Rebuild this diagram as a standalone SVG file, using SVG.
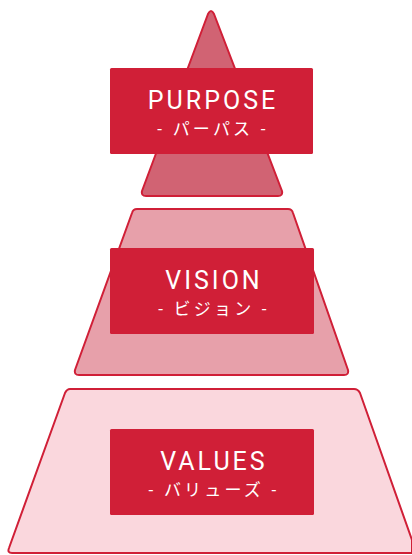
<svg xmlns="http://www.w3.org/2000/svg" width="412" height="555" viewBox="0 0 412 555">
<style>
.tier{stroke:#d01f37;stroke-width:2;stroke-linejoin:round}
.box{fill:#d01f37}
.t1{font-family:Roboto,"Noto Sans",sans-serif;font-size:25px;fill:#fff;letter-spacing:3px;text-anchor:middle}
.t2{font-family:Roboto,"Noto Sans CJK JP",sans-serif;font-size:17px;fill:#fff;letter-spacing:3.2px;text-anchor:middle}
</style>
<rect width="412" height="555" fill="#fff"/>
<g id="values">
<path class="tier" d="M70,389 L354,389 Q358,389 360,393 L412,540 L412,553 L12,553 Q7,553 9,548 L65,393 Q67,389 70,389 Z" fill="#fad7dd"/>
<rect class="box" x="110" y="429" width="204" height="86" rx="1.5"/>
<text class="t1" x="214" y="470">VALUES</text>
<text class="t2" x="214" y="496">- バリューズ -</text>
</g>
<g id="vision">
<path class="tier" d="M137,209 L288,209 Q292,209 293,213 L348,370 Q349,375 344,375 L79,375 Q74,375 75,370 L132,213 Q133,209 137,209 Z" fill="#e7a0aa"/>
<rect class="box" x="110" y="248" width="204" height="86" rx="1.5"/>
<text class="t1" x="214" y="289">VISION</text>
<text class="t2" x="214" y="315">- ビジョン -</text>
</g>
<g id="purpose">
<path class="tier" d="M208,14 Q211,8 214,14 L282,191 Q283,196 278,196 L146,196 Q141,196 142,191 Z" fill="#d16373"/>
<rect class="box" x="110" y="68" width="203" height="86" rx="1.5"/>
<text class="t1" x="213" y="109">PURPOSE</text>
<text class="t2" x="213" y="135">- パーパス -</text>
</g>
<g id="connectors"/>
</svg>
